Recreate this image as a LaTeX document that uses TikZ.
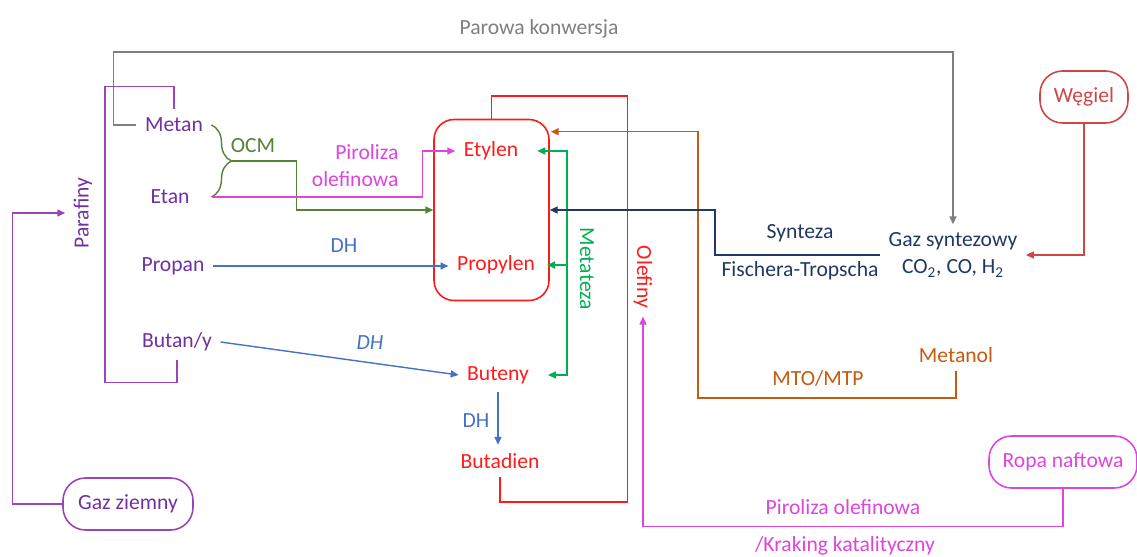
\documentclass[tikz,border=0pt]{standalone}
\usepackage{fontspec}
\setmainfont{Carlito}
\usepackage{tikz}
\usetikzlibrary{arrows.meta,calc,decorations.pathreplacing,positioning}
\definecolor{paraText}{HTML}{7030A0}
\definecolor{paraLine}{HTML}{9B45B8}
\definecolor{ocmC}{HTML}{548235}
\definecolor{piroC}{HTML}{DE44DE}
\definecolor{dhC}{HTML}{4472C4}
\definecolor{metaC}{HTML}{00B050}
\definecolor{mtoC}{HTML}{C55A11}
\definecolor{ftC}{HTML}{1F3864}
\definecolor{grayC}{HTML}{7F7F7F}
\definecolor{coalC}{HTML}{D04545}
\definecolor{olefC}{HTML}{FF1A1A}

\begin{document}
\begin{tikzpicture}[x=0.02cm, y=-0.02cm,
        font=\fontsize{12.3}{15.4}\selectfont,
        >={Triangle[length=4.5pt,width=4pt]}, line width=0.8pt,
        txt/.style={inner sep=4.5pt},
        src/.style={draw, rounded corners=0.45cm, minimum height=1.04cm, inner sep=2pt, line width=0.9pt}]
        \useasboundingbox (0,0) rectangle (1137,557);

        \coordinate (metajn) at (567,265);

        \node[txt, text=paraText] (metan) at (174,125) {Metan};
        \node[txt, text=paraText] (etan) at (170,197) {Etan};
        \node[txt, text=paraText] (propan) at (173,266) {Propan};
        \node[txt, text=paraText] (butan) at (177,342) {Butan/y};
        \node[txt, text=paraText, rotate=90] (parafiny) at (83,213) {Parafiny};
        \node[src, draw=paraLine, text=paraText, minimum width=2.6cm] (gazz) at (128,504) {Gaz ziemny};

        \node[txt, text=olefC] (etylen) at (491,151) {Etylen};
        \node[txt, text=olefC] (propylen) at (496,265) {Propylen};
        \node[txt, text=olefC] (buteny) at (498,375) {Buteny};
        \node[txt, text=olefC] (butadien) at (500,461) {Butadien};
        \node[draw=olefC, rounded corners=0.4cm, minimum width=2.3cm, minimum height=3.62cm, line width=0.9pt] (box) at (491.5,210) {};
        \node[txt, text=olefC, rotate=-90] (olefiny) at (643,277) {Olefiny};

        \node[txt, text=ftC, align=center] (gaz) at (953,255) {Gaz syntezowy\\CO\textsubscript{2}, CO, H\textsubscript{2}};
        \node[src, draw=coalC, text=coalC, minimum width=1.76cm] (wegiel) at (1084,97) {Węgiel};
        \node[txt, text=mtoC] (metanol) at (956,355) {Metanol};
        \node[src, draw=piroC, text=piroC, minimum width=2.96cm] (ropa) at (1063,462) {Ropa naftowa};

        \node[text=grayC] (lblparowa) at (539,29) {Parowa konwersja};
        \node[text=ocmC] (lblocm) at (253,146) {OCM};
        \node[text=piroC, align=right, anchor=east] (lblpiro) at (405,166) {Piroliza\\olefinowa};
        \node[text=dhC] (lbldha) at (344,246) {DH};
        \node[text=dhC] (lbldhb) at (370,343) {\itshape DH};
        \node[text=dhC] (lbldhc) at (476,421) {DH};
        \node[text=metaC, rotate=-90] (lblmeta) at (587,269) {Metateza};
        \node[text=ftC] (lblsynteza) at (800,233) {Synteza};
        \node[text=ftC] (lblft) at (800,271) {Fischera-Tropscha};
        \node[text=mtoC] (lblmto) at (818,378) {MTO/MTP};
        \node[text=piroC] (lblpirob) at (843,507) {Piroliza olefinowa};
        \node[text=piroC] (lblkrak) at (845,546) {/Kraking katalityczny};

        \coordinate (ocmtip) at ($(metan.east)!0.5!(metan.east |- etan.east)+(20,0)$);

        \draw[grayC, ->] (metan.west) -- ++(-23,0) -- ++(0,-73) -| (gaz.north);
        \draw[paraLine] (metan.north) -- ++(0,-23) -- ++(-69,0) -- ++(0,296) -| (butan.south);
        \draw[paraLine, ->] (gazz.west) -- ++(-50,0) |- (parafiny.north);

        \draw[ocmC, decorate, decoration={brace, amplitude=0.4cm}] (metan.east) -- (metan.east |- etan.east);
        \draw[ocmC, ->] (ocmtip) -- ++(65,0) |- (box.west);
        \draw[piroC, ->] (metan.east |- etan.east) -- ++(211,0) |- (etylen.west);
        \draw[dhC, ->] (propan.east) -- (propan.east -| propylen.west);
        \draw[dhC, ->] (butan.east) -- (buteny.west);
        \draw[dhC, ->] (buteny.south) -- (buteny.south |- butadien.north);

        \draw[metaC, <->, shorten <=6pt, shorten >=6pt] (etylen.east) -| (metajn) |- (buteny.east);
        \draw[metaC, ->] (metajn) -- ([xshift=2pt]propylen.east);
        \draw[olefC, line width=0.9pt] (box.north) -- ++(0,-23) -| ++(136,406) -| (butadien.south);

        \draw[mtoC, ->] (metanol.south) |- ++(-258,27) |- ($(box.north east)+(1,13)$);
        \draw[ftC, ->] (gaz.west) -- ++(-165,0) |- (box.east);
        \draw[coalC, ->] (wegiel.south) |- (gaz.east);
        \draw[piroC, ->] (ropa.south) -- ++(0,38) -| (olefiny.east);
\end{tikzpicture}
\end{document}
